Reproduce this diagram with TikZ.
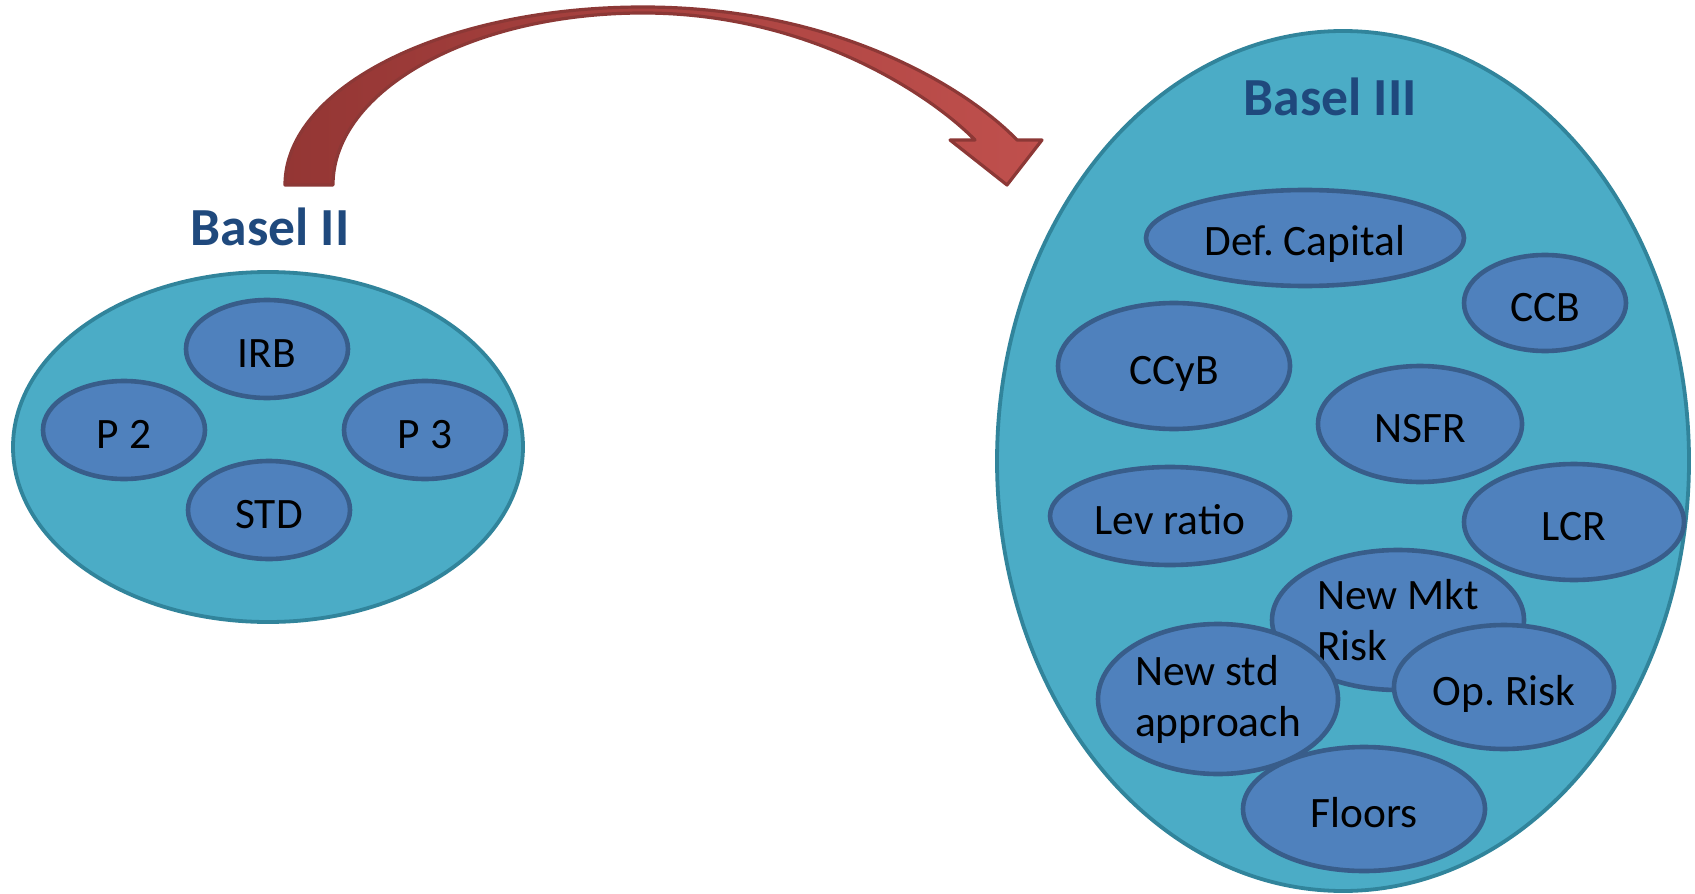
\documentclass[tikz,border=0pt]{standalone}
\usepackage{fontspec}
\setmainfont{Carlito}
\frenchspacing
\usetikzlibrary{positioning, shapes.geometric, arrows.meta}

\definecolor{outerfill}{HTML}{4BACC6}
\definecolor{outerline}{HTML}{31849B}
\definecolor{innerfill}{HTML}{4F81BD}
\definecolor{innerline}{HTML}{385D8A}
\definecolor{titleblue}{HTML}{1F497D}
\definecolor{arrowdark}{HTML}{943634}
\definecolor{arrowlight}{HTML}{C0504D}
\definecolor{arrowline}{HTML}{8C3836}

\tikzset{
    basel/.style={ellipse, draw=outerline, fill=outerfill, line width=1.9pt, inner sep=0pt},
    item/.style={ellipse, draw=innerline, fill=innerfill, line width=2.3pt, inner sep=0pt,
        font=\fontsize{21.7}{25.5}\selectfont, text=black},
    oneline/.style={text height=18pt, text depth=0pt},
    title/.style={font=\fontsize{26.8}{30}\selectfont\bfseries, text=titleblue}
}

\begin{document}
\begin{tikzpicture}[x=0.5pt, y=-0.5pt]
            \useasboundingbox (0, 0) rectangle (1695, 893);

            % the move from Basel II to Basel III
            \draw [line width=1.6pt, draw=arrowline, line join=round, left color=arrowdark, right color=arrowlight]
                (285, 185) .. controls (285, 87) and (445, 7) .. (643, 7)
                .. controls (843, 7) and (972, 93) .. (1017, 140)
                -- (1042, 140) -- (1007, 185) -- (950, 140) -- (975, 140)
                .. controls (932, 96) and (810, 13) .. (643, 13)
                .. controls (472, 13) and (333, 90) .. (333, 185) -- cycle;

            % Basel II
            \node [title] (B2) at (270, 227) {Basel II};
            \node [basel, minimum width=255pt, minimum height=175pt] (B2set) at (268, 447) {};
            \node [item, oneline, minimum width=81pt, minimum height=49pt] (IRB) at (267, 349) {IRB};
            \node [item, oneline, minimum width=81pt, minimum height=49pt] (P2) at (124, 430) {P 2};
            \node [item, oneline, minimum width=81pt, minimum height=49pt] (P3) at (425, 430) {P 3};
            \node [item, oneline, minimum width=81pt, minimum height=49pt] (STD) at (269, 510) {STD};

            % Basel III
            \node [basel, minimum width=346pt, minimum height=430pt] (B3set) at (1343, 461) {};
            \node [title] (B3) at (1330, 97) {Basel III};
            \node [item, oneline, minimum width=159pt, minimum height=48pt] (Def) at (1305, 238) {Def. Capital};
            \node [item, oneline, minimum width=81pt, minimum height=48pt] (CCB) at (1545, 303) {CCB};
            \node [item, oneline, minimum width=116pt, minimum height=63pt] (CCyB) at (1174, 366) {CCyB};
            \node [item, oneline, minimum width=102pt, minimum height=58pt] (NSFR) at (1420, 424) {NSFR};
            \node [item, oneline, minimum width=120pt, minimum height=49pt] (Lev) at (1170, 516) {Lev ratio};
            \node [item, oneline, minimum width=110pt, minimum height=58pt] (LCR) at (1574, 522) {LCR};
            \node [item, minimum width=126pt, minimum height=70pt, align=left] (Mkt) at (1398, 620) {New Mkt\\Risk};
            \node [item, minimum width=120pt, minimum height=75pt, align=left] (NewStd) at (1218, 699) {New std\\approach};
            \node [item, oneline, minimum width=110pt, minimum height=62pt] (OpR) at (1504, 687) {Op. Risk};
            \node [item, oneline, minimum width=121pt, minimum height=62pt] (Floors) at (1364, 809) {Floors};
        \end{tikzpicture}
\end{document}
